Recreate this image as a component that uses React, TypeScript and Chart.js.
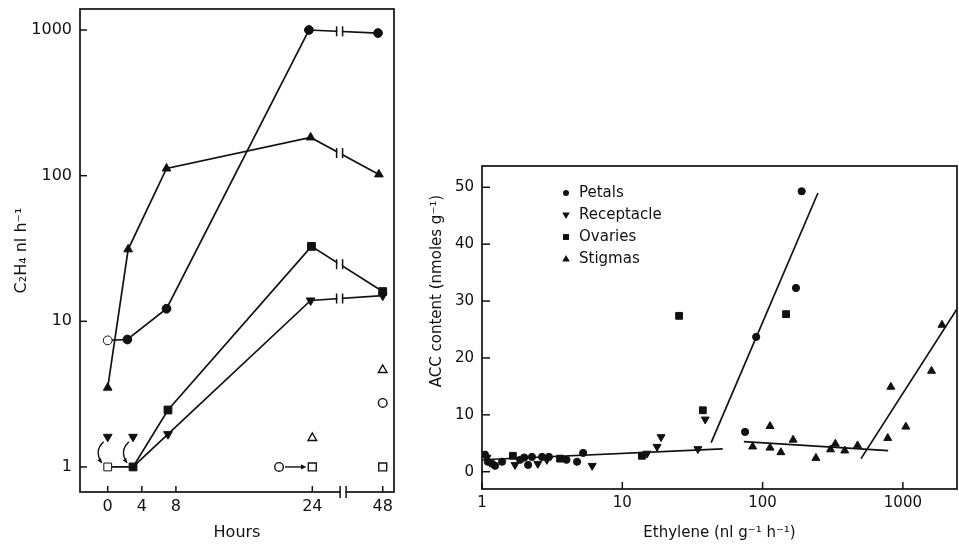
import React, { useEffect, useRef } from 'react';
import { Chart, registerables } from 'chart.js';

Chart.register(...registerables);

const INK = '#111111';
const FONT = "'DejaVu Sans', 'Noto Sans', sans-serif";
Chart.defaults.font.family = FONT;
Chart.defaults.color = INK;

// ---------------- Left panel: C2H4 production vs hours ----------------
const hourTicks = [0, 4, 8, 24, 48];
const productionTicks = [1, 10, 100, 1000];

const petalsHours = [0, 2.3, 6.9, 23.6, 46.4];
const petalsRate = [7.4, 7.5, 12.2, 1000, 953];

const stigmasHours = [0, 2.4, 6.9, 23.8, 46.7];
const stigmasRate = [3.5, 31.2, 112, 183, 102];

const ovariesHours = [0, 2.97, 7.07, 23.9, 48];
const ovariesRate = [1, 1, 2.46, 32.7, 16];

const receptacleHours = [2.97, 7.07, 23.8, 48];
const receptacleRate = [1, 1.68, 13.9, 15];

const receptacleLooseHours = [0, 2.97];
const receptacleLooseRate = [1.61, 1.61];

const openCircleHours = [20.1, 48];
const openCircleRate = [1, 2.75];
const openTriangleHours = [24, 48];
const openTriangleRate = [1.58, 4.63];
const openSquareHours = [24, 48];
const openSquareRate = [1, 1];

// curved arrows (receptacle -> ovary level) and the transfer arrow
const shiftArrowHours = [0, 2.97];
const shiftArrowFrom = [1.61, 1.61];
const shiftArrowTo = [1, 1];
const transferArrowHours = [20.1, 24];
const transferArrowRate = 1;

// broken time axis: hours after 24 are compressed
const BREAK_START = 24;
const BREAK_FACTOR = 0.344;
const LINE_BREAK_HOUR = 33.3;
const AXIS_BREAK_HOUR = 34.5;
const axisPos = (h: number) => (h <= BREAK_START ? h : BREAK_START + (h - BREAK_START) * BREAK_FACTOR);

// ---------------- Right panel: ACC content vs ethylene ----------------
const ethyleneTicks = [1, 10, 100, 1000];
const accTicks = [0, 10, 20, 30, 40, 50];

const petalsEthylene = [1.05, 1.1, 1.18, 1.24, 1.39, 1.87, 2.0, 2.13, 2.27, 2.68, 3.0, 4.0, 4.76, 5.26, 75, 90, 173, 190];
const petalsAcc = [3.0, 1.75, 1.4, 1.05, 1.75, 2.1, 2.5, 1.2, 2.6, 2.6, 2.6, 2.1, 1.75, 3.3, 7.0, 23.7, 32.3, 49.3];

const receptacleEthylene = [1.085, 1.72, 2.5, 2.9, 6.1, 15, 17.7, 18.9, 34.6, 39];
const receptacleAcc = [2.5, 1.2, 1.4, 2.1, 1.05, 3.2, 4.4, 6.1, 4.0, 9.2];

const ovariesEthylene = [1.66, 3.6, 13.8, 25.4, 37.5, 147];
const ovariesAcc = [2.8, 2.3, 2.8, 27.4, 10.8, 27.7];

const stigmasEthylene = [85, 113, 113, 135, 165, 240, 305, 330, 385, 475, 780, 821, 1050, 1600, 1900];
const stigmasAcc = [4.4, 8.0, 4.2, 3.4, 5.6, 2.4, 3.9, 4.9, 3.7, 4.6, 5.9, 14.9, 7.9, 17.7, 25.8];

const fit1Ethylene = [1, 52];
const fit1Acc = [2.1, 4.0];
const fit2Ethylene = [43, 248];
const fit2Acc = [5.1, 49];
const fit3Ethylene = [73.5, 785];
const fit3Acc = [5.3, 3.7];
const fit4Ethylene = [503, 2431];
const fit4Acc = [2.3, 28.6];

const legendLabels = ['Petals', 'Receptacle', 'Ovaries', 'Stigmas'];

// ---------------- helpers ----------------
const pairs = (xs: number[], ys: number[], fx = (v: number) => v) => xs.map((x, i) => ({ x: fx(x), y: ys[i] }));

function line(ctx: CanvasRenderingContext2D, x1: number, y1: number, x2: number, y2: number) {
  ctx.beginPath();
  ctx.moveTo(x1, y1);
  ctx.lineTo(x2, y2);
  ctx.stroke();
}

function arrowHead(ctx: CanvasRenderingContext2D, x: number, y: number, angle: number, size: number) {
  ctx.beginPath();
  ctx.moveTo(x, y);
  ctx.lineTo(x - size * Math.cos(angle - 0.45), y - size * Math.sin(angle - 0.45));
  ctx.lineTo(x - size * Math.cos(angle + 0.45), y - size * Math.sin(angle + 0.45));
  ctx.closePath();
  ctx.fill();
}

function marker(ctx: CanvasRenderingContext2D, style: string, rot: number, x: number, y: number, r: number) {
  ctx.beginPath();
  if (style === 'circle') {
    ctx.arc(x, y, r, 0, Math.PI * 2);
  } else if (style === 'rect') {
    const s = r * Math.SQRT1_2;
    ctx.rect(x - s, y - s, 2 * s, 2 * s);
  } else {
    const d = rot === 180 ? -1 : 1;
    ctx.moveTo(x, y - d * r);
    ctx.lineTo(x - r * 0.95, y + d * r * 0.6);
    ctx.lineTo(x + r * 0.95, y + d * r * 0.6);
    ctx.closePath();
  }
  ctx.fill();
}

const frameAndTicks = (chart: any, tickIn: number) => {
  const { ctx, chartArea: a, scales } = chart;
  ctx.strokeStyle = INK;
  ctx.lineWidth = 1.7;
  ctx.strokeRect(a.left, a.top, a.right - a.left, a.bottom - a.top);
  ctx.lineWidth = 1.5;
  scales.x.ticks.forEach((t: any) => {
    const px = scales.x.getPixelForValue(t.value);
    line(ctx, px, a.bottom, px, a.bottom - tickIn);
  });
  scales.y.ticks.forEach((t: any) => {
    const py = scales.y.getPixelForValue(t.value);
    line(ctx, a.left, py, a.left + tickIn + 1, py);
  });
};

const leftDecor = {
  id: 'leftDecor',
  afterDatasetsDraw(chart: any) {
    const { ctx, chartArea: a, scales } = chart;
    const x = scales.x;
    const y = scales.y;
    ctx.save();
    frameAndTicks(chart, 6);

    // axis break
    const ab = x.getPixelForValue(axisPos(AXIS_BREAK_HOUR));
    ctx.fillStyle = '#fff';
    ctx.fillRect(ab - 2.5, a.bottom - 2, 5, 4);
    ctx.lineWidth = 1.5;
    line(ctx, ab - 3, a.bottom - 6, ab - 3, a.bottom + 6);
    line(ctx, ab + 3, a.bottom - 6, ab + 3, a.bottom + 6);

    // line breaks
    const lb = x.getPixelForValue(axisPos(LINE_BREAK_HOUR));
    [0, 1, 2, 3].forEach((i) => {
      const pts = chart.getDatasetMeta(i).data;
      const p1 = pts[pts.length - 2];
      const p2 = pts[pts.length - 1];
      const t = (lb - p1.x) / (p2.x - p1.x);
      const yy = p1.y + t * (p2.y - p1.y);
      ctx.fillStyle = '#fff';
      ctx.fillRect(lb - 2.3, yy - 4, 4.6, 8);
      line(ctx, lb - 3, yy - 5, lb - 3, yy + 5);
      line(ctx, lb + 3, yy - 5, lb + 3, yy + 5);
    });

    // curved arrows
    ctx.fillStyle = INK;
    ctx.lineWidth = 1.4;
    shiftArrowHours.forEach((h, i) => {
      const px = x.getPixelForValue(axisPos(h));
      const y1 = y.getPixelForValue(shiftArrowFrom[i]);
      const y2 = y.getPixelForValue(shiftArrowTo[i]);
      const sx = px - 4, sy = y1 + 5;
      const cx = px - 14, cy = y1 + 14;
      const ex = px - 6, ey = y2 - 4;
      ctx.beginPath();
      ctx.moveTo(sx, sy);
      ctx.quadraticCurveTo(cx, cy, ex, ey);
      ctx.stroke();
      arrowHead(ctx, ex, ey, Math.atan2(ey - cy, ex - cx), 5);
    });

    // transfer arrow
    const ty = y.getPixelForValue(transferArrowRate);
    const tx1 = x.getPixelForValue(axisPos(transferArrowHours[0])) + 6;
    const tx2 = x.getPixelForValue(axisPos(transferArrowHours[1])) - 6;
    line(ctx, tx1, ty, tx2 - 3, ty);
    arrowHead(ctx, tx2, ty, 0, 6);
    ctx.restore();
  },
};

const rightDecor = {
  id: 'rightDecor',
  afterDatasetsDraw(chart: any) {
    const { ctx, chartArea: a } = chart;
    ctx.save();
    frameAndTicks(chart, 7);

    // legend
    ctx.fillStyle = INK;
    ctx.font = `15px ${FONT}`;
    ctx.textBaseline = 'middle';
    ctx.textAlign = 'left';
    legendLabels.forEach((lab, i) => {
      const ds: any = chart.data.datasets[i];
      const mx = a.left + 84;
      const my = a.top + 27 + i * 22;
      const style = ds.pointStyle;
      const r = style === 'circle' ? 3 : style === 'rect' ? 4.2 : 4;
      marker(ctx, style, ds.rotation || 0, mx, my, r);
      ctx.fillText(lab, mx + 13, my);
    });

    // y title
    ctx.save();
    ctx.translate(17, 291);
    ctx.rotate(-Math.PI / 2);
    ctx.textAlign = 'center';
    ctx.font = `15px ${FONT}`;
    ctx.fillText('ACC content (nmoles g⁻¹)', 0, 0);
    ctx.restore();
    ctx.restore();
  },
};

const filled = (label: string, data: any[], style: string, r: any, extra: any = {}) => ({
  label,
  data,
  pointStyle: style,
  pointRadius: r,
  pointBackgroundColor: INK,
  pointBorderColor: INK,
  pointBorderWidth: 1,
  borderColor: INK,
  borderWidth: 1.7,
  showLine: false,
  ...extra,
});

const noEdgePad = (s: any) => {
  s.paddingLeft = 0;
  s.paddingRight = 0;
  s.paddingTop = 0;
  s.paddingBottom = 0;
};

function leftConfig(): any {
  const lineOpts = { showLine: true, borderWidth: 1.7, tension: 0 };
  return {
    type: 'scatter',
    data: {
      datasets: [
        filled('Petals', pairs(petalsHours, petalsRate, axisPos), 'circle', 4.4, {
          ...lineOpts,
          pointBackgroundColor: petalsHours.map((_, i) => (i === 0 ? '#fff' : INK)),
        }),
        filled('Stigmas', pairs(stigmasHours, stigmasRate, axisPos), 'triangle', 5, lineOpts),
        filled('Ovaries', pairs(ovariesHours, ovariesRate, axisPos), 'rect', 5.5, {
          ...lineOpts,
          pointBackgroundColor: ovariesHours.map((_, i) => (i === 0 ? '#fff' : INK)),
        }),
        filled('Receptacle', pairs(receptacleHours, receptacleRate, axisPos), 'triangle', receptacleHours.map((_, i) => (i === 0 ? 0 : 5)), {
          ...lineOpts,
          rotation: 180,
        }),
        filled('Receptacle (no line)', pairs(receptacleLooseHours, receptacleLooseRate, axisPos), 'triangle', 5, { rotation: 180 }),
        filled('Open circles', pairs(openCircleHours, openCircleRate, axisPos), 'circle', 4.3, { pointBackgroundColor: '#fff', pointBorderWidth: 1.4 }),
        filled('Open triangles', pairs(openTriangleHours, openTriangleRate, axisPos), 'triangle', 5, { pointBackgroundColor: '#fff', pointBorderWidth: 1.4 }),
        filled('Open squares', pairs(openSquareHours, openSquareRate, axisPos), 'rect', 5.6, { pointBackgroundColor: '#fff', pointBorderWidth: 1.4 }),
        filled('Open inverted', pairs(openSquareHours, openSquareRate, axisPos), 'triangle', 3, { pointBackgroundColor: '#fff', pointBorderWidth: 1.2, rotation: 180 }),
      ],
    },
    options: {
      responsive: false,
      animation: false,
      events: [],
      layout: { autoPadding: false, padding: { left: 0, top: 9, right: 26, bottom: 0 } },
      plugins: { legend: { display: false }, tooltip: { enabled: false } },
      scales: {
        x: {
          type: 'linear',
          bounds: 'data',
          min: -3.25,
          max: 33.58,
          grid: { display: false, drawTicks: false },
          border: { display: false },
          ticks: {
            color: INK,
            font: { size: 16 },
            padding: 5,
            maxRotation: 0,
            autoSkip: false,
            callback: (_v: any, i: number) => String(hourTicks[i]),
          },
          afterBuildTicks: (s: any) => {
            s.ticks = hourTicks.map((h) => ({ value: axisPos(h) }));
          },
          afterFit: (s: any) => {
            s.height = 53;
            noEdgePad(s);
          },
          title: { display: true, text: 'Hours', color: INK, font: { size: 16 }, padding: { top: 0, bottom: 3 } },
        },
        y: {
          type: 'logarithmic',
          bounds: 'data',
          min: 0.673,
          max: 1394,
          grid: { display: false, drawTicks: false },
          border: { display: false },
          ticks: { color: INK, font: { size: 16 }, padding: 8, autoSkip: false, callback: (v: any) => String(v) },
          afterBuildTicks: (s: any) => {
            s.ticks = productionTicks.map((v) => ({ value: v }));
          },
          afterFit: (s: any) => {
            s.width = 80;
            noEdgePad(s);
          },
          title: { display: true, text: 'C₂H₄ nl h⁻¹', color: INK, font: { size: 16 }, padding: { top: 12, bottom: 0 } },
        },
      },
    },
    plugins: [leftDecor],
  };
}

function rightConfig(): any {
  const fitLine = (data: any[]) => ({
    label: '',
    data,
    showLine: true,
    pointRadius: 0,
    borderColor: INK,
    borderWidth: 1.7,
    tension: 0,
  });
  return {
    type: 'scatter',
    data: {
      datasets: [
        filled(legendLabels[0], pairs(petalsEthylene, petalsAcc), 'circle', 3.6),
        filled(legendLabels[1], pairs(receptacleEthylene, receptacleAcc), 'triangle', 4.6, { rotation: 180 }),
        filled(legendLabels[2], pairs(ovariesEthylene, ovariesAcc), 'rect', 4.8),
        filled(legendLabels[3], pairs(stigmasEthylene, stigmasAcc), 'triangle', 4.6),
        fitLine(pairs(fit1Ethylene, fit1Acc)),
        fitLine(pairs(fit2Ethylene, fit2Acc)),
        fitLine(pairs(fit3Ethylene, fit3Acc)),
        fitLine(pairs(fit4Ethylene, fit4Acc)),
      ],
    },
    options: {
      responsive: false,
      animation: false,
      events: [],
      layout: { autoPadding: false, padding: { left: 0, top: 166, right: 2, bottom: 0 } },
      plugins: { legend: { display: false }, tooltip: { enabled: false } },
      scales: {
        x: {
          type: 'logarithmic',
          bounds: 'data',
          min: 1,
          max: 2431,
          grid: { display: false, drawTicks: false },
          border: { display: false },
          ticks: { color: INK, font: { size: 15 }, padding: 5, maxRotation: 0, autoSkip: false, callback: (v: any) => String(v) },
          afterBuildTicks: (s: any) => {
            s.ticks = ethyleneTicks.map((v) => ({ value: v }));
          },
          afterFit: (s: any) => {
            s.height = 56;
            noEdgePad(s);
          },
          title: { display: true, text: 'Ethylene (nl g⁻¹ h⁻¹)', color: INK, font: { size: 15 }, padding: { top: 0, bottom: 3 } },
        },
        y: {
          type: 'linear',
          bounds: 'data',
          min: -3.04,
          max: 53.74,
          grid: { display: false, drawTicks: false },
          border: { display: false },
          ticks: { color: INK, font: { size: 15 }, padding: 8, autoSkip: false, callback: (v: any) => String(v) },
          afterBuildTicks: (s: any) => {
            s.ticks = accTicks.map((v) => ({ value: v }));
          },
          afterFit: (s: any) => {
            s.width = 62;
            noEdgePad(s);
          },
        },
      },
    },
    plugins: [rightDecor],
  };
}

export default function App() {
  const leftRef = useRef<HTMLCanvasElement>(null);
  const rightRef = useRef<HTMLCanvasElement>(null);

  useEffect(() => {
    const l = new Chart(leftRef.current as HTMLCanvasElement, leftConfig());
    const r = new Chart(rightRef.current as HTMLCanvasElement, rightConfig());
    return () => {
      l.destroy();
      r.destroy();
    };
  }, []);

  return (
    <div style={{ position: 'absolute', left: 0, top: 0, width: 959, height: 545, background: '#fff' }}>
      <canvas ref={leftRef} width={420} height={545} style={{ position: 'absolute', left: 0, top: 0, width: 420, height: 545 }} />
      <canvas ref={rightRef} width={539} height={545} style={{ position: 'absolute', left: 420, top: 0, width: 539, height: 545 }} />
    </div>
  );
}
